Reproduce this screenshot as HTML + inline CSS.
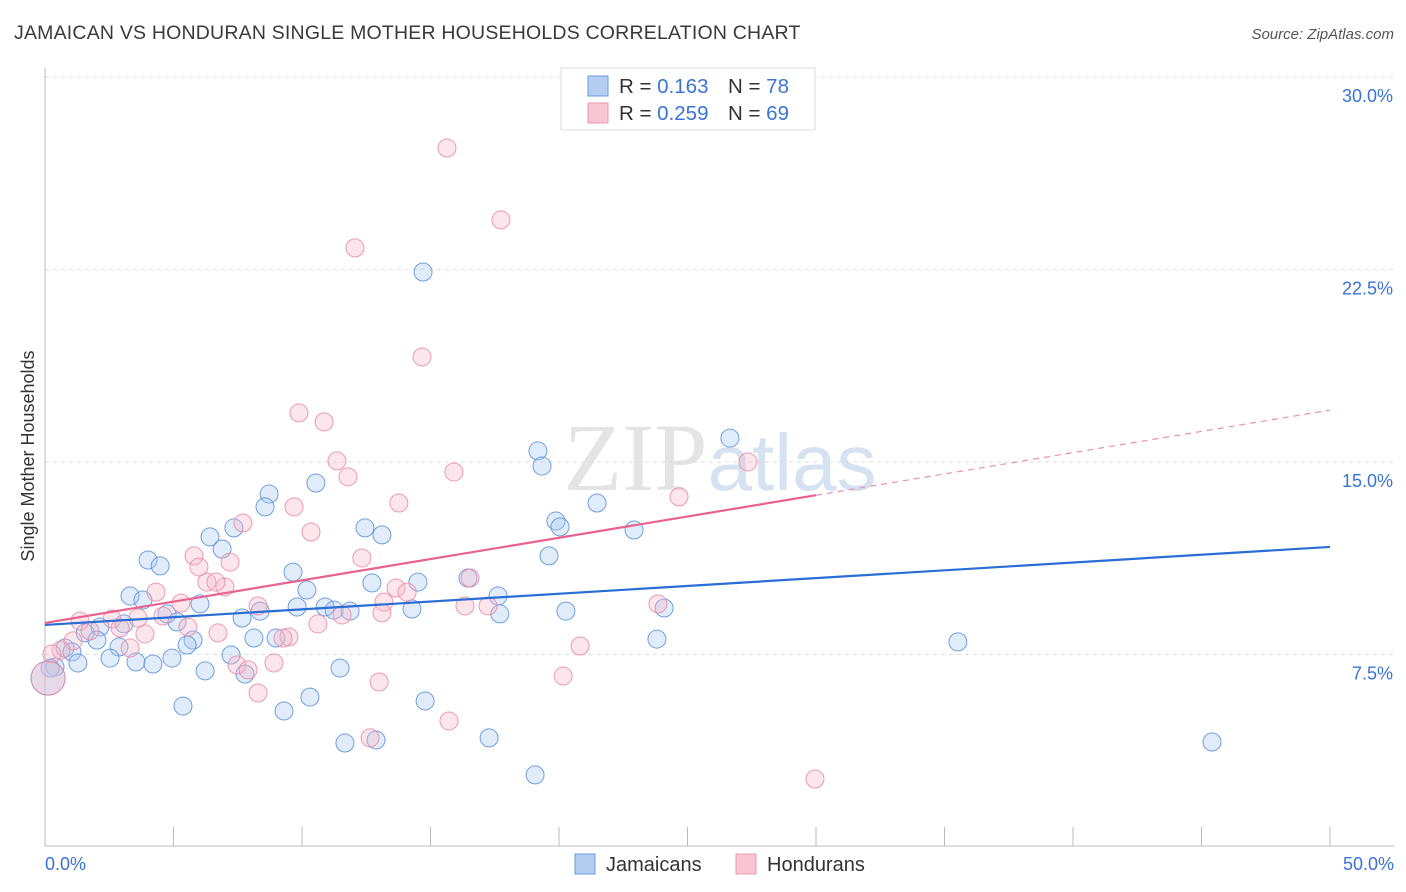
<!DOCTYPE html>
<html><head><meta charset="utf-8"><style>
body{margin:0;background:#fff;font-family:"Liberation Sans",sans-serif;}
svg{display:block}
</style></head><body>
<svg id="c" width="1406" height="892" xmlns="http://www.w3.org/2000/svg">
<text x="14" y="39" font-size="19.5" fill="#3a3a3a" letter-spacing="0.2">JAMAICAN VS HONDURAN SINGLE MOTHER HOUSEHOLDS CORRELATION CHART</text>
<text x="1394" y="39" font-size="15" fill="#555" text-anchor="end" font-style="italic">Source: ZipAtlas.com</text>
<text x="720" y="490" font-size="96" fill="#e4e4e4" text-anchor="middle" font-family="Liberation Serif">ZIP<tspan fill="#d6e2f2" font-family="Liberation Sans" font-size="80">atlas</tspan></text>
<g id="grid"></g>
<g id="axes"></g>
<g id="marks"></g>
<text transform="translate(34,456) rotate(-90)" font-size="18" fill="#333" text-anchor="middle">Single Mother Households</text>
<g>
<rect x="561" y="68" width="254" height="62" fill="#fff" stroke="#ddd"/>
<rect x="588" y="76" width="20" height="20" fill="#b3cdf3" stroke="#6a9be0"/>
<rect x="588" y="103" width="20" height="20" fill="#f9c4d3" stroke="#ec9ab2"/>
<text x="619" y="93" font-size="20.5" fill="#333">R = <tspan fill="#3a73d6">0.163</tspan><tspan x="728">N = </tspan><tspan fill="#3a73d6">78</tspan></text>
<text x="619" y="120" font-size="20.5" fill="#333">R = <tspan fill="#3a73d6">0.259</tspan><tspan x="728">N = </tspan><tspan fill="#3a73d6">69</tspan></text>
</g>
<g>
<rect x="575" y="854" width="20" height="20" fill="#b3cdf3" stroke="#6a9be0"/>
<text x="606" y="871" font-size="20" fill="#333">Jamaicans</text>
<rect x="736" y="854" width="20" height="20" fill="#f9c4d3" stroke="#ec9ab2"/>
<text x="767" y="871" font-size="20" fill="#333">Hondurans</text>
</g>
</svg>
<script>
const yTicks=[7.5,15,22.5,30];
const yTickLabels=["7.5%","15.0%","22.5%","30.0%"];
const xTickLabels=["0.0%","50.0%"];
const jamX=[14.71,26.65,19.18,19.34,21.48,19.88,20.04,22.92,19.61,8.72,8.56,10.54,7.35,6.42,6.89,12.45,13.11,4.01,4.48,9.65,12.72,14.51,16.46,10.19,3.31,3.81,6.03,17.63,9.81,10.90,11.25,11.87,14.28,20.27,24.09,17.70,4.75,8.37,7.67,5.14,3.07,2.14,1.56,2.02,5.76,8.13,8.99,23.81,35.52,2.88,5.53,0.78,1.05,2.53,3.54,4.20,4.94,7.24,1.28,0.39,6.23,7.78,11.48,10.31,14.79,5.37,9.30,11.67,12.88,17.28,19.07,45.41,0.2,0.12];
const jamY=[22.40,15.93,15.43,14.84,13.40,12.70,12.47,12.35,11.34,13.75,13.25,14.18,12.43,12.08,11.61,12.43,12.16,11.18,10.95,10.71,10.29,10.32,10.48,10.01,9.78,9.62,9.47,9.78,9.35,9.35,9.23,9.19,9.27,9.19,9.31,9.08,9.08,9.19,8.92,8.77,8.69,8.57,8.34,8.06,8.06,8.14,8.14,8.10,7.99,7.79,7.87,7.75,7.60,7.36,7.21,7.13,7.36,7.48,7.17,7.01,6.86,6.74,6.97,5.84,5.69,5.49,5.30,4.05,4.17,4.25,2.81,4.09,6.97,6.58];
const honX=[15.64,17.74,12.06,14.67,9.88,10.86,11.36,11.79,15.91,27.35,24.67,13.77,9.69,7.70,10.35,5.80,12.33,5.99,7.20,6.30,7.00,6.65,16.54,13.66,14.09,4.32,13.19,5.29,8.29,16.34,17.24,23.85,13.11,11.56,4.59,3.62,2.61,1.36,10.62,5.56,2.92,1.75,3.89,6.73,9.49,9.26,1.09,3.31,20.82,0.62,0.27,7.47,8.91,7.90,20.16,13.00,8.29,15.72,12.65,29.96,0.12];
const honY=[27.23,24.43,23.34,19.09,16.91,16.56,15.04,14.42,14.61,15.00,13.64,13.40,13.25,12.62,12.27,11.34,11.26,10.91,11.10,10.32,10.13,10.32,10.48,10.09,9.93,9.93,9.54,9.50,9.39,9.39,9.39,9.47,9.12,9.04,9.00,8.92,8.88,8.80,8.69,8.57,8.53,8.42,8.30,8.34,8.18,8.14,8.03,7.75,7.83,7.67,7.52,7.09,7.17,6.90,6.66,6.43,6.00,4.91,4.25,2.65,6.58];
const jamTrend=[8.65,11.69];
const honTrend=[8.73,17.02];
const honSolidEnd=30;
const X=v=>45+v/50*1285, Y=v=>847-v*25.67;
const NS="http://www.w3.org/2000/svg";
function mk(t,a,p){const e=document.createElementNS(NS,t);for(const k in a)e.setAttribute(k,a[k]);p.appendChild(e);return e;}
const grid=document.getElementById('grid'),axes=document.getElementById('axes'),marks=document.getElementById('marks');
yTicks.forEach((t,i)=>{
 const l=mk('line',{x1:45,x2:1394,y1:Y(t),y2:Y(t),stroke:'#ddd','stroke-dasharray':'4,4'},grid);
 
 
 const tx=mk('text',{x:1393,y:Y(t)+25,'font-size':18,fill:'#3a73d6','text-anchor':'end'},axes);
 tx.textContent=yTickLabels[i];
 
 
});
const ax=mk('line',{x1:45,x2:45,y1:68,y2:846,stroke:'#bbb'},axes);


const bx=mk('line',{x1:45,x2:1394,y1:846,y2:846,stroke:'#bbb'},axes);


for(let i=0;i<=10;i++){
 const t=mk('line',{x1:X(i*5),x2:X(i*5),y1:827,y2:846,stroke:'#bbb'},axes);
 
 
}
[[0,'start',45],[50,'end',1394]].forEach((d,i)=>{
 const t=mk('text',{x:d[2],y:870,'font-size':18,fill:'#3a73d6','text-anchor':d[1]},axes);
 t.textContent=xTickLabels[i];
 
 
});
function pts(xs,ys,fill,stroke,name){
 xs.forEach((x,i)=>{
  const big=i===xs.length-1;
  const c=mk('circle',{cx:X(x),cy:Y(ys[i]),r:big?17:9,fill:fill,'fill-opacity':0.35,stroke:stroke,'stroke-width':1,'stroke-opacity':0.85},marks);
  
  
 });
}
pts(jamX,jamY,'#a9c8f0','#5b8fdb','jamaican-point');
pts(honX,honY,'#f7b6c8','#e98aa6','honduran-point');
const jl=mk('line',{x1:X(0),y1:Y(jamTrend[0]),x2:X(50),y2:Y(jamTrend[1]),stroke:'#2a6dd4','stroke-width':2.2},marks);


const hy=v=>honTrend[0]+(honTrend[1]-honTrend[0])*v/50;
const hl=mk('line',{x1:X(0),y1:Y(hy(0)),x2:X(honSolidEnd),y2:Y(hy(honSolidEnd)),stroke:'#e8628e','stroke-width':2.2},marks);


const hd=mk('line',{x1:X(honSolidEnd),y1:Y(hy(honSolidEnd)),x2:X(50),y2:Y(hy(50)),stroke:'#ec8fae','stroke-width':1.2,'stroke-dasharray':'6,5'},marks);


</script>
</body></html>
